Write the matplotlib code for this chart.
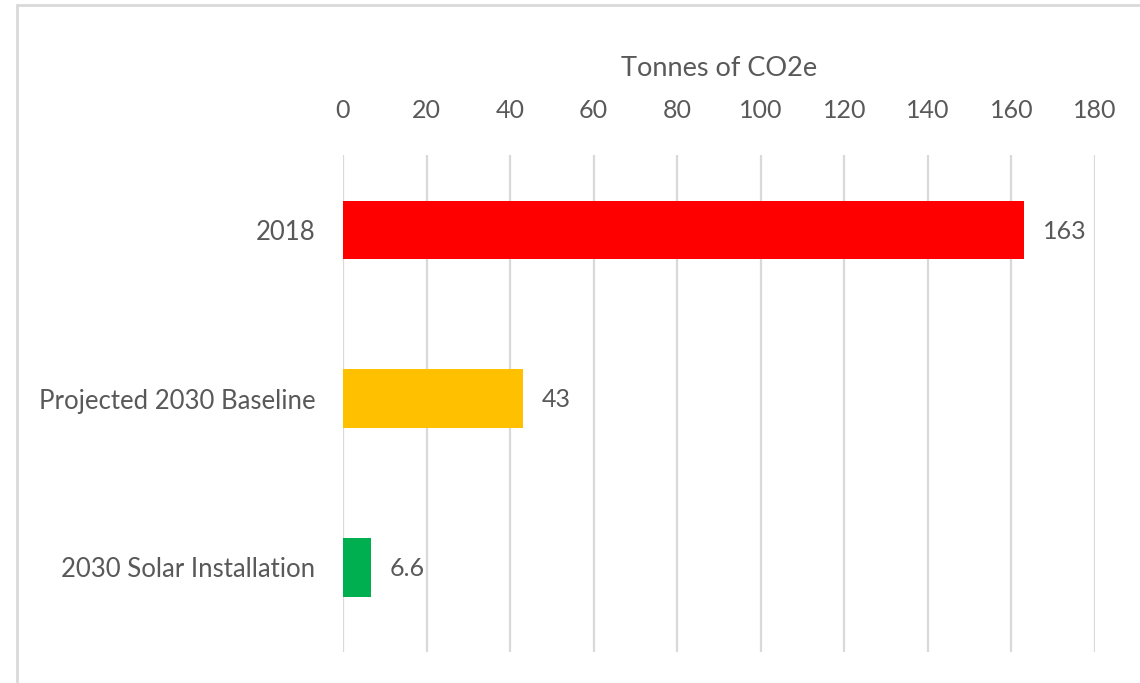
import matplotlib
matplotlib.use("Agg")
import matplotlib.pyplot as plt
from matplotlib.patches import Rectangle

# Data
categories = ["2018", "Projected 2030 Baseline", "2030 Solar Installation"]
values = [163, 43, 6.6]
value_labels = ["163", "43", "6.6"]
colors = ["#FF0000", "#FFC000", "#00B050"]
xticks = [0, 20, 40, 60, 80, 100, 120, 140, 160, 180]

plt.rcParams['font.family'] = ['Lato', 'DejaVu Sans']
text_color = "#595959"
grid_color = "#D9D9D9"
fs = 18

fig = plt.figure(figsize=(11.4, 6.83), dpi=100)
ax = fig.add_axes([343 / 1140, 1 - 652 / 683, (1095 - 343) / 1140, (652 - 155) / 683])

ypos = list(range(len(categories)))
ax.barh(ypos, values, height=0.35, color=colors, zorder=3)

for y, v, lab in zip(ypos, values, value_labels):
    ax.annotate(lab, (v, y), xytext=(14, -1), textcoords="offset points",
                va="center", ha="left", fontsize=fs, color=text_color)

ax.set_xlim(0, 180)
# category centres sit slightly lower than the middle of the grid area
ax.set_ylim(2.504, -0.445)
ax.set_xticks(xticks)
ax.set_yticks(ypos)
ax.set_yticklabels(categories, fontsize=18.5)

ax.xaxis.tick_top()
ax.xaxis.set_label_position("top")
ax.set_xlabel("Tonnes of CO2e", fontsize=19.5, color=text_color, labelpad=16)
ax.tick_params(axis="x", length=0, pad=24, labelsize=fs, labelcolor=text_color)
ax.tick_params(axis="y", length=0, pad=20, labelcolor=text_color)

ax.grid(axis="x", color=grid_color, linewidth=1.6, zorder=0)
for s in ax.spines.values():
    s.set_visible(False)

# chart area border (cropped at right and bottom)
fig.patches.append(Rectangle((17 / 1140, -0.1), 1.2, 1 - 5 / 683 + 0.1,
                             transform=fig.transFigure, fill=False,
                             edgecolor=grid_color, linewidth=2))

fig.savefig("out.png", dpi=100)
plt.close(fig)
